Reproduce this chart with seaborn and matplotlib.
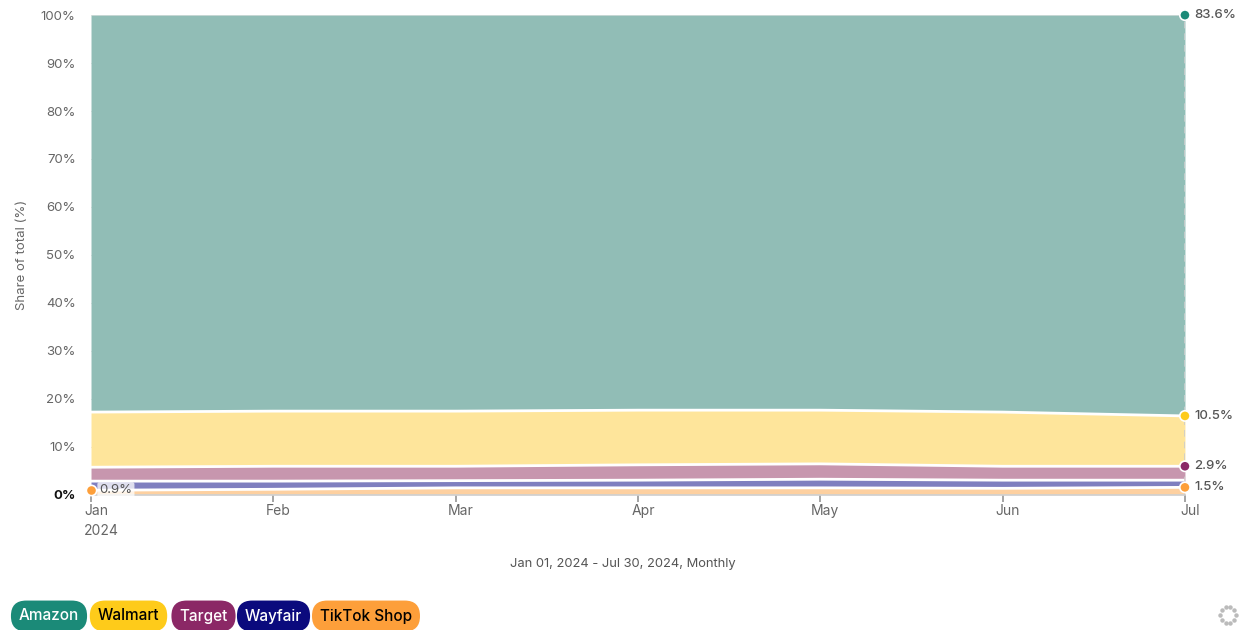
import numpy as np
import pandas as pd
import seaborn as sns
import matplotlib.pyplot as plt
from matplotlib import transforms

# monthly share of total (%)
months = ['Jan', 'Feb', 'Mar', 'Apr', 'May', 'Jun', 'Jul']
amazon = [82.8, 82.6, 82.6, 82.4, 82.4, 82.8, 83.6]
walmart = [11.5, 11.5, 11.5, 11.4, 11.2, 11.3, 10.5]
target = [2.9, 3.1, 3.0, 3.2, 3.2, 2.9, 2.9]
wayfair = [1.9, 1.7, 1.5, 1.6, 1.8, 1.7, 1.5]
tiktok = [0.9, 1.1, 1.4, 1.4, 1.4, 1.3, 1.5]

series = ['Amazon', 'Walmart', 'Target', 'Wayfair', 'TikTok Shop']
strong = {'Amazon': '#1b8a78', 'Walmart': '#fecb1a', 'Target': '#8b2866',
          'Wayfair': '#0b0a7d', 'TikTok Shop': '#fd9f3a'}
fills = {'Amazon': '#91bdb6', 'Walmart': '#fee59b', 'Target': '#c796ae',
         'Wayfair': '#7f7fbf', 'TikTok Shop': '#fdd0a0'}
text_col = {'Amazon': 'white', 'Walmart': 'black', 'Target': 'white',
            'Wayfair': 'white', 'TikTok Shop': 'black'}

df = pd.DataFrame({'month': months, 'Amazon': amazon, 'Walmart': walmart,
                   'Target': target, 'Wayfair': wayfair, 'TikTok Shop': tiktok})
df['x'] = np.arange(len(df))

sns.set_theme(style='white')
plt.rcParams['font.family'] = ['Inter', 'DejaVu Sans']

fig = plt.figure(figsize=(12.4, 6.3), dpi=100)
ax = fig.add_axes([0.0734, 0.215, 0.8822, 0.761])

# stack from bottom: TikTok, Wayfair, Target, Walmart, Amazon
order = ['TikTok Shop', 'Wayfair', 'Target', 'Walmart', 'Amazon']
base = np.zeros(len(df))
tops = {}
for name in order:
    top = base + df[name].values
    tops[name] = top
    ax.fill_between(df['x'], base, top, color=fills[name], lw=0, zorder=2)
    base = top
for name in order:
    if name == 'Amazon':
        continue
    sns.lineplot(x=df['x'], y=tops[name], color='white', lw=2, ax=ax, zorder=3)

ax.set_xlim(0, 6)
ax.set_ylim(0, 100)
ax.set_yticks(range(0, 101, 10))
ax.set_yticklabels([f'{v}%' for v in range(0, 101, 10)])
ax.yaxis.grid(True, color='#e6e6e6', lw=0.8, zorder=0)
ax.set_axisbelow(True)
for s in ['top', 'right', 'left']:
    ax.spines[s].set_visible(False)
ax.spines['bottom'].set_color('#d0d0d0')
ax.tick_params(axis='y', length=0, labelsize=9.5, labelcolor='#666666', pad=11)
ax.tick_params(axis='x', length=5, color='#999999', labelsize=10, labelcolor='#666666',
               bottom=True, pad=2)
ax.set_xticks(df['x'])
ax.set_xticklabels(months)
shift = transforms.ScaledTranslation(5 / 100, 0, fig.dpi_scale_trans)
for lab in ax.get_xticklabels():
    lab.set_transform(lab.get_transform() + shift)
yl = ax.get_yticklabels()
yl[0].set_color('#111111')
yl[0].set_fontweight('bold')

ax.text(0, -7.6, '2024', ha='left', va='center', fontsize=10, color='#666666',
        transform=ax.transData + transforms.ScaledTranslation(-7 / 100, 0, fig.dpi_scale_trans))
fig.text(0.502, 0.105, 'Jan 01, 2024 - Jul 30, 2024, Monthly', ha='center', va='center',
         fontsize=9.3, color='#555555')

# dashed hover line at the last month
ax.axvline(6, color='#cccccc', lw=1.2, ls=(0, (4, 3)), zorder=4)

# end labels
last = len(df) - 1
end_pts = pd.DataFrame({
    'x': [last] * 4,
    'y': [tops['Amazon'][last], tops['Walmart'][last], tops['Target'][last], tops['TikTok Shop'][last]],
    'name': ['Amazon', 'Walmart', 'Target', 'TikTok Shop'],
})
sns.scatterplot(data=end_pts, x='x', y='y', hue='name', palette=strong, s=55,
                edgecolor='white', linewidth=1.2, legend=False, ax=ax, zorder=6, clip_on=False)
for _, r in end_pts.iterrows():
    ax.annotate(f"{df[r['name']].iloc[last]:.1f}%", (r['x'], r['y']), xytext=(6.5, 0),
                textcoords='offset points', va='center', ha='left', fontsize=9.5,
                fontweight='medium', color='#555555', annotation_clip=False)

sns.scatterplot(x=[0], y=[tops['TikTok Shop'][0]], color=strong['TikTok Shop'], s=55,
                edgecolor='white', linewidth=1.2, ax=ax, zorder=6, clip_on=False, legend=False)
ax.annotate(f"{tiktok[0]:.1f}%", (0, tops['TikTok Shop'][0]), xytext=(6, 0),
            textcoords='offset points', va='center', ha='left', fontsize=9.5, color='#555555',
            bbox=dict(boxstyle='round,pad=0.15', fc='white', ec='none', alpha=0.75), zorder=7)
ax.set_xlabel('')
ax.set_ylabel('Share of total (%)', fontsize=9.5, color='#666666', labelpad=9)

# legend pills
pill_x = [49, 128.5, 203.5, 273.5, 366]
for name, px in zip(series, pill_x):
    fig.text(px / 1240, 1 - 616 / 630, name, ha='center', va='center', fontsize=11,
             color=text_col[name], fontweight='medium',
             bbox=dict(boxstyle='round,pad=0.52,rounding_size=1.0', fc=strong[name], ec='none'))

# loading spinner
ang = np.linspace(0, 2 * np.pi, 10, endpoint=False)
fig.add_artist(plt.Line2D(1228 / 1240 + 8 / 1240 * np.cos(ang), 1 - 615 / 630 + 8 / 630 * np.sin(ang),
                          ls='none', marker='o', ms=2.2, color='#bbbbbb', transform=fig.transFigure))

fig.savefig('out.png', dpi=100)
